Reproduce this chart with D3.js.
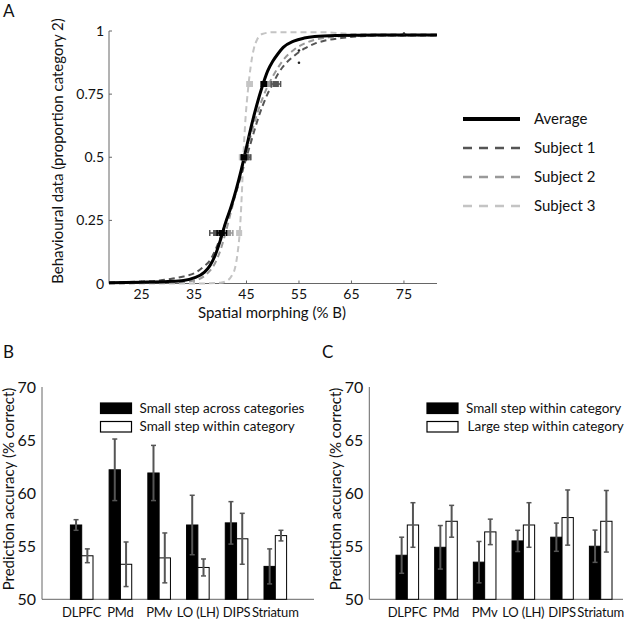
<!DOCTYPE html>
<html><head><meta charset="utf-8">
<script src="https://cdn.jsdelivr.net/npm/d3@7"></script>
<style>body{margin:0;background:#fff} svg{display:block} text{font-family:Lato,"Open Sans",sans-serif;fill:#111}</style>
</head><body><svg id="c" width="640" height="620"></svg>
<script>
// ---------- Panel A data ----------
const xTicksA = [25, 35, 45, 55, 65, 75];
const yTicksA = [0, 0.25, 0.5, 0.75, 1];
const yTickLabelsA = ["0", "0.25", "0.5", "0.75", "1"];
const seriesNamesA = ["Average", "Subject 1", "Subject 2", "Subject 3"];
const curveAverage = [[18.8,0.003],[25,0.005],[30,0.008],[33,0.012],[35,0.022],[37,0.045],[38,0.07],[39,0.11],[40,0.17],[41,0.24],[42,0.30],[43,0.37],[44,0.45],[45,0.54],[46,0.63],[47,0.71],[48,0.78],[49,0.84],[50,0.88],[51,0.91],[52,0.935],[54,0.96],[56,0.972],[58,0.978],[62,0.982],[70,0.984],[81.3,0.984]];
const curveSubject1 = [[18.8,0.004],[25,0.008],[28.5,0.012],[31,0.02],[33,0.028],[35,0.04],[37,0.07],[38,0.09],[39,0.13],[40,0.18],[41,0.24],[42,0.30],[43,0.36],[44,0.43],[45,0.50],[46,0.57],[47,0.64],[48,0.70],[49,0.75],[50,0.79],[51,0.83],[52,0.86],[54,0.90],[56,0.93],[58,0.95],[60,0.962],[63,0.972],[66,0.978],[70,0.982],[81.3,0.982]];
const curveSubject2 = [[18.8,0.001],[30,0.003],[35,0.012],[37,0.03],[38,0.05],[39,0.08],[40,0.13],[41,0.2],[42,0.28],[43,0.36],[44,0.44],[45,0.52],[46,0.6],[47,0.67],[48,0.73],[49,0.78],[50,0.82],[51,0.855],[52,0.885],[54,0.925],[56,0.95],[58,0.965],[60,0.973],[64,0.98],[81.3,0.982]];
const curveSubject3 = [[18.8,0.0],[35,0.0],[38,0.001],[40,0.003],[41,0.008],[42,0.025],[42.8,0.06],[43.3,0.12],[43.7,0.2],[44.1,0.35],[44.4,0.5],[44.8,0.65],[45.3,0.77],[45.8,0.86],[46.4,0.93],[47,0.965],[48,0.988],[50,0.995],[60,0.995],[65,0.988],[81.3,0.988]];
// category-boundary markers (x mean, proportion level, horizontal error)
const markerYLevels = [0.2, 0.5, 0.79];
const markerXAverage = [40.3, 44.5, 48.3];
const markerErrAverage = [0.9, 0.5, 0.5];
const markerXSubject1 = [39.2, 45.0, 50.6];
const markerErrSubject1 = [1.2, 0.8, 0.9];
const markerXSubject2 = [41.5, 45.2, 49.5];
const markerErrSubject2 = [0.9, 0.6, 0.6];
const markerXSubject3 = [43.6, 44.1, 45.6];
const markerErrSubject3 = [0.3, 0.3, 0.5];
const dotsX = [55, 55, 45.5, 75];
const dotsY = [0.923, 0.874, 0.58, 0.99];

// ---------- Panels B & C data ----------
const regions = ["DLPFC", "PMd", "PMv", "LO (LH)", "DIPS", "Striatum"];
const yTicksBC = [50, 55, 60, 65, 70];
const bAcross = [57.0, 62.2, 61.9, 57.0, 57.2, 53.1];
const bAcrossErr = [0.5, 2.9, 2.6, 2.8, 2.0, 1.65];
const bWithin = [54.1, 53.3, 53.9, 53.0, 55.7, 56.0];
const bWithinErr = [0.65, 2.1, 2.35, 0.8, 2.4, 0.5];
const cSmall = [54.15, 54.9, 53.5, 55.5, 55.85, 55.0];
const cSmallErr = [1.7, 2.05, 1.95, 1.0, 1.33, 1.52];
const cLarge = [57.0, 57.35, 56.35, 57.0, 57.7, 57.35];
const cLargeErr = [2.1, 1.5, 1.2, 2.1, 2.6, 2.9];
const legendB = ["Small step across categories", "Small step within category"];
const legendC = ["Small step within category", "Large step within category"];

const svg = d3.select("#c");
const axisCol = "#666";

// ================= Panel A =================
const xA = d3.scaleLinear().domain([18.8, 81.3]).range([109, 437]);
const yA = d3.scaleLinear().domain([0, 1]).range([283.5, 31]);
const gA = svg.append("g");
gA.append("line").attr("x1", xA(18.8)).attr("x2", xA(81.3)).attr("y1", yA(0)).attr("y2", yA(0)).attr("stroke", axisCol).attr("stroke-width", 1);
gA.append("line").attr("x1", xA(18.8)).attr("x2", xA(18.8)).attr("y1", yA(0)).attr("y2", yA(1)).attr("stroke", axisCol).attr("stroke-width", 1);
xTicksA.forEach(t => {
  gA.append("line").attr("x1", xA(t)).attr("x2", xA(t)).attr("y1", yA(0)).attr("y2", yA(0) - 3).attr("stroke", axisCol);
  gA.append("text").attr("x", xA(t)).attr("y", 299).attr("text-anchor", "middle").attr("font-size", 14).text(t);
});
yTicksA.forEach((t, i) => {
  gA.append("line").attr("x1", xA(18.8)).attr("x2", xA(18.8) + 3).attr("y1", yA(t)).attr("y2", yA(t)).attr("stroke", axisCol);
  gA.append("text").attr("x", 104).attr("y", yA(t) + 5).attr("text-anchor", "end").attr("font-size", 14).text(yTickLabelsA[i]);
});
gA.append("text").attr("x", 272).attr("y", 318).attr("text-anchor", "middle").attr("font-size", 15).text("Spatial morphing (% B)");
gA.append("text").attr("transform", "translate(63,151) rotate(-90)").attr("text-anchor", "middle").attr("font-size", 15).text("Behavioural data (proportion category 2)");
svg.append("text").attr("x", 3).attr("y", 17).attr("font-size", 17).text("A");

const lineA = d3.line().x(d => xA(d[0])).y(d => yA(d[1])).curve(d3.curveMonotoneX);
const styles = [
  {name: seriesNamesA[0], data: curveAverage, col: "#000", w: 3, dash: null, mx: markerXAverage, me: markerErrAverage},
  {name: seriesNamesA[1], data: curveSubject1, col: "#555", w: 2, dash: "6,4", mx: markerXSubject1, me: markerErrSubject1},
  {name: seriesNamesA[2], data: curveSubject2, col: "#999", w: 2, dash: "6,4", mx: markerXSubject2, me: markerErrSubject2},
  {name: seriesNamesA[3], data: curveSubject3, col: "#c4c4c4", w: 2, dash: "6,4", mx: markerXSubject3, me: markerErrSubject3}
];
const drawOrder = [3, 2, 1, 0];
drawOrder.forEach(i => {
  const s = styles[i];
  gA.append("path").attr("d", lineA(s.data)).attr("fill", "none").attr("stroke", s.col)
    .attr("stroke-width", s.w).attr("stroke-dasharray", s.dash);
});
drawOrder.forEach(i => {
  const s = styles[i];
  s.mx.forEach((mx, k) => {
    const yy = yA(markerYLevels[k]);
    const x0 = xA(mx - s.me[k]), x1 = xA(mx + s.me[k]);
    gA.append("line").attr("x1", x0).attr("x2", x1).attr("y1", yy).attr("y2", yy).attr("stroke", s.col).attr("stroke-width", 1.5);
    [x0, x1].forEach(xe => gA.append("line").attr("x1", xe).attr("x2", xe).attr("y1", yy - 3).attr("y2", yy + 3).attr("stroke", s.col).attr("stroke-width", 1.5));
    gA.append("rect").attr("x", xA(mx) - 3).attr("y", yy - 3).attr("width", 6).attr("height", 6).attr("fill", s.col);
  });
});
dotsX.forEach((dx, i) => gA.append("circle").attr("cx", xA(dx)).attr("cy", yA(dotsY[i])).attr("r", 1.3).attr("fill", "#222"));

// legend A
const legY = [119, 148, 177, 206];
styles.forEach((s, i) => {
  gA.append("line").attr("x1", 463).attr("x2", 520).attr("y1", legY[i]).attr("y2", legY[i])
    .attr("stroke", s.col).attr("stroke-width", i === 0 ? 4 : 2.5).attr("stroke-dasharray", i === 0 ? null : "9,7");
  gA.append("text").attr("x", 534).attr("y", legY[i] + 5).attr("font-size", 15).text(s.name);
});

// ================= Panels B & C =================
function barPanel(opts) {
  const g = svg.append("g");
  const y = d3.scaleLinear().domain([50, 70]).range([599.3, 387]);
  const x = d3.scalePoint().domain(regions).range(opts.centers);
  const bw = 11.3;
  g.append("line").attr("x1", opts.axisX[0]).attr("x2", opts.axisX[1]).attr("y1", y(50)).attr("y2", y(50)).attr("stroke", axisCol);
  g.append("line").attr("x1", opts.axisX[0]).attr("x2", opts.axisX[0]).attr("y1", y(50)).attr("y2", y(70)).attr("stroke", axisCol);
  yTicksBC.forEach(t => g.append("text").attr("x", opts.axisX[0] - 6).attr("y", y(t) + 5.5)
    .attr("text-anchor", "end").attr("font-size", 16).text(t));
  regions.forEach((r, i) => {
    g.append("text").attr("x", x(r)).attr("y", 617).attr("text-anchor", "middle").attr("font-size", 13)
      .attr("letter-spacing", -0.2).text(r);
  });
  const sets = [{v: opts.v1, e: opts.e1, fill: "#000", off: -bw}, {v: opts.v2, e: opts.e2, fill: "#fff", off: 0}];
  sets.forEach(s => {
    regions.forEach((r, i) => {
      g.append("rect").attr("x", x(r) + s.off).attr("y", y(s.v[i])).attr("width", bw).attr("height", y(50) - y(s.v[i]))
        .attr("fill", s.fill).attr("stroke", "#000").attr("stroke-width", 1);
    });
  });
  sets.forEach(s => {
    regions.forEach((r, i) => {
      const cx = x(r) + s.off + bw / 2;
      const lo = y(s.v[i] - s.e[i]), hi = y(s.v[i] + s.e[i]);
      g.append("line").attr("x1", cx).attr("x2", cx).attr("y1", lo).attr("y2", hi).attr("stroke", "#555").attr("stroke-width", 2);
      [lo, hi].forEach(yy => g.append("line").attr("x1", cx - 2.5).attr("x2", cx + 2.5).attr("y1", yy).attr("y2", yy).attr("stroke", "#555").attr("stroke-width", 1.5));
    });
  });
  // legend
  const lx = opts.legendX;
  [[403, "#000"], [421.5, "#fff"]].forEach((d, i) => {
    g.append("rect").attr("x", lx).attr("y", d[0]).attr("width", 31).attr("height", 10.5).attr("fill", d[1]).attr("stroke", "#000").attr("stroke-width", 1.2);
    g.append("text").attr("x", lx + 39 + (i === 1 ? opts.legendShift : 0)).attr("y", d[0] + 9.5).attr("font-size", 13.5).text(opts.legend[i]);
  });
  g.append("text").attr("transform", `translate(${opts.labelX},489) rotate(-90)`).attr("text-anchor", "middle")
    .attr("font-size", 15).text("Prediction accuracy (% correct)");
  svg.append("text").attr("x", opts.panelXY[0]).attr("y", opts.panelXY[1]).attr("font-size", 17).text(opts.panel);
}
barPanel({centers: [81.7, 275.3], axisX: [42, 314], v1: bAcross, e1: bAcrossErr, v2: bWithin, e2: bWithinErr,
  legend: legendB, legendX: 100.5, legendShift: 0, labelX: 14, panel: "B", panelXY: [3, 358]});
barPanel({centers: [407.3, 600.7], axisX: [369.3, 623], v1: cSmall, e1: cSmallErr, v2: cLarge, e2: cLargeErr,
  legend: legendC, legendX: 427, legendShift: 1.5, labelX: 341, panel: "C", panelXY: [322, 358]});
</script></body></html>
